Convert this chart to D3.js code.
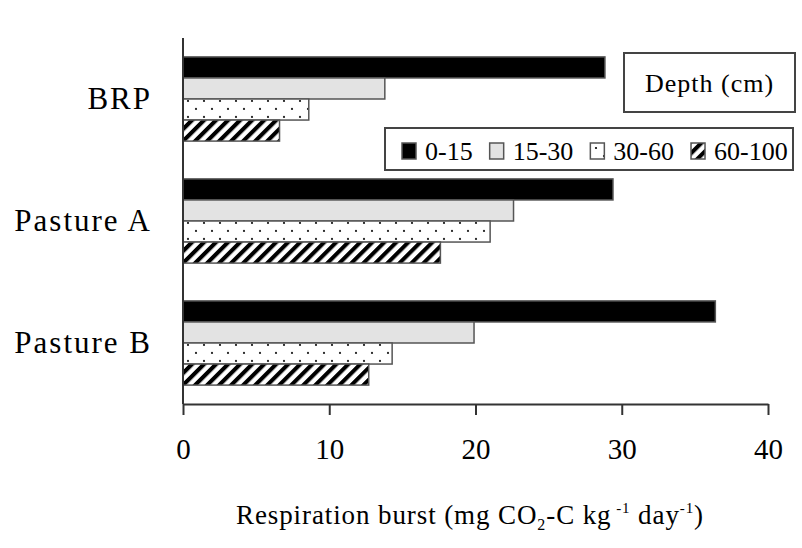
<!DOCTYPE html>
<html>
<head>
<meta charset="utf-8">
<script src="https://cdn.jsdelivr.net/npm/d3@7"></script>
<style>
  body { margin: 0; background: #fff; }
  svg { display: block; font-family: "Liberation Serif", "Times New Roman", serif; }
  .cat-label { font-size: 31px; letter-spacing: 2px; }
  .tick-label { font-size: 29px; }
  .axis-title { font-size: 27px; letter-spacing: 0.9px; }
  .legend-text { font-size: 26px; }
  .depth-title { font-size: 26px; letter-spacing: 1px; }
</style>
</head>
<body>
<svg id="chart" width="802" height="548"></svg>
<script>
// data
const categories = ["BRP", "Pasture A", "Pasture B"];
const depths = ["0-15", "15-30", "30-60", "60-100"];
const depth0_15 = [28.85, 29.4, 36.4];
const depth15_30 = [13.8, 22.6, 19.9];
const depth30_60 = [8.6, 21.0, 14.3];
const depth60_100 = [6.6, 17.6, 12.7];
const xTicks = [0, 10, 20, 30, 40];

const series = [depth0_15, depth15_30, depth30_60, depth60_100];
const fills = ["#000", "#e3e3e3", "url(#dots)", "url(#hatch)"];

var svg = d3.select("#chart");

// patterns
var defs = svg.append("defs");
var dots = defs.append("pattern")
    .attr("id", "dots")
    .attr("patternUnits", "userSpaceOnUse")
    .attr("width", 16).attr("height", 16);
dots.append("rect").attr("width", 16).attr("height", 16).attr("fill", "#fff");
dots.append("circle").attr("cx", 4).attr("cy", 4).attr("r", 1.1).attr("fill", "#000");
dots.append("circle").attr("cx", 12).attr("cy", 12).attr("r", 1.1).attr("fill", "#000");

var hatch = defs.append("pattern")
    .attr("id", "hatch")
    .attr("patternUnits", "userSpaceOnUse")
    .attr("width", 8.5).attr("height", 8.5)
    .attr("patternTransform", "rotate(45)");
hatch.append("rect").attr("width", 8.5).attr("height", 8.5).attr("fill", "#fff");
hatch.append("line").attr("x1", 2).attr("y1", 0).attr("x2", 2).attr("y2", 8.5)
    .attr("stroke", "#000").attr("stroke-width", 4.2);

// scales
var x = d3.scaleLinear().domain([0, 40]).range([183, 768]);
var y = d3.scaleBand().domain(categories).range([38, 404])
    .paddingInner(0.31).paddingOuter(0.155);
var ySub = d3.scaleBand().domain(depths).range([0, y.bandwidth()]);

// bars
var groups = svg.append("g").selectAll("g")
    .data(categories)
    .join("g")
    .attr("transform", d => "translate(0," + y(d) + ")");

groups.selectAll("rect")
    .data((d, i) => depths.map((k, j) => ({key: k, value: series[j][i], idx: j})))
    .join("rect")
    .attr("x", x(0))
    .attr("y", d => ySub(d.key))
    .attr("width", d => x(d.value) - x(0))
    .attr("height", ySub.bandwidth())
    .attr("fill", d => fills[d.idx])
    .attr("stroke", "#555")
    .attr("stroke-width", 1.5);

// category labels
svg.append("g").selectAll("text")
    .data(categories)
    .join("text")
    .attr("class", "cat-label")
    .attr("x", x(0) - 31)
    .attr("y", d => y(d) + y.bandwidth() / 2)
    .attr("dy", "0.33em")
    .attr("text-anchor", "end")
    .text(d => d);

// y axis line (no ticks)
svg.append("line")
    .attr("x1", x(0)).attr("x2", x(0))
    .attr("y1", 38).attr("y2", 404)
    .attr("stroke", "#333").attr("stroke-width", 2);

// x axis
var xAxis = svg.append("g")
    .attr("transform", "translate(0,404)")
    .call(d3.axisBottom(x).tickValues(xTicks).tickSize(11).tickSizeOuter(0).tickPadding(23));
xAxis.attr("font-family", null).attr("font-size", null);
xAxis.select(".domain").attr("stroke", "#333").attr("stroke-width", 2);
xAxis.selectAll(".tick line").attr("stroke", "#333").attr("stroke-width", 2);
xAxis.selectAll(".tick text")
    .attr("class", "tick-label")
    .attr("fill", "#000");

// axis title
var title = svg.append("text")
    .attr("class", "axis-title")
    .attr("x", 470)
    .attr("y", 524)
    .attr("text-anchor", "middle");
title.append("tspan").text("Respiration burst (mg CO");
title.append("tspan").attr("dy", 6).attr("font-size", "16px").text("2");
title.append("tspan").attr("dy", -6).text("-C kg");
title.append("tspan").attr("dy", -11).attr("font-size", "15px").text(" -1");
title.append("tspan").attr("dy", 11).text(" day");
title.append("tspan").attr("dy", -11).attr("font-size", "15px").text("-1");
title.append("tspan").attr("dy", 11).text(")");

// depth title box
svg.append("rect")
    .attr("x", 624).attr("y", 53).attr("width", 171).attr("height", 59)
    .attr("fill", "#fff").attr("stroke", "#444").attr("stroke-width", 2);
svg.append("text")
    .attr("class", "depth-title")
    .attr("x", 709.5).attr("y", 92)
    .attr("text-anchor", "middle")
    .text("Depth (cm)");

// legend
svg.append("rect")
    .attr("x", 385).attr("y", 128).attr("width", 408).attr("height", 42)
    .attr("fill", "#fff").attr("stroke", "#444").attr("stroke-width", 2);

var lx = 402;
depths.forEach(function(d, i) {
    svg.append("rect")
        .attr("x", lx).attr("y", 143).attr("width", 14).attr("height", 16)
        .attr("fill", fills[i]).attr("stroke", "#555").attr("stroke-width", 1.5);
    var t = svg.append("text")
        .attr("class", "legend-text")
        .attr("x", lx + 23).attr("y", 160)
        .text(d);
    lx = lx + 23 + t.node().getComputedTextLength() + 17;
});
</script>
</body>
</html>
